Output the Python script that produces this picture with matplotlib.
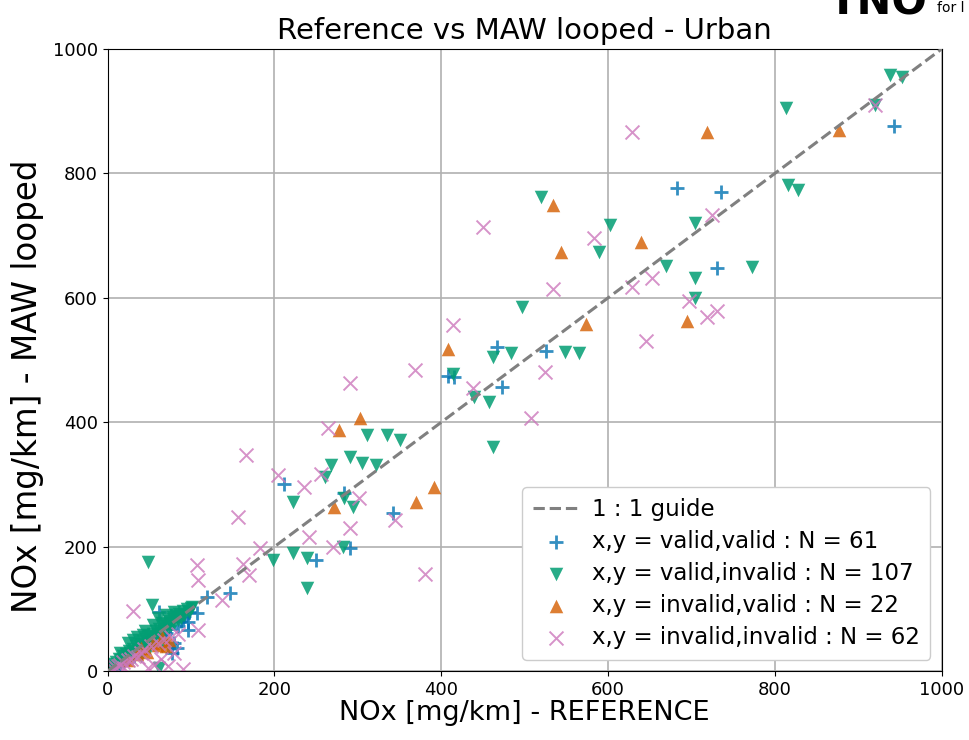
import numpy as np
import matplotlib
matplotlib.use("Agg")
import matplotlib.pyplot as plt

# valid,valid (N = 61)
vv_x = [943, 683, 735, 730, 467, 525, 473, 408, 415, 211, 283, 342, 291, 250, 147, 119,
        62, 98, 96, 97, 83, 77, 107,
        5, 8, 10, 12, 14, 15, 18, 20, 22, 24, 26, 28, 30, 32, 35, 36, 38, 40, 42, 44, 46,
        48, 50, 52, 55, 58, 60, 62, 65, 68, 70, 72, 75, 80, 85, 88, 90, 92, 95][:61]
vv_y = [876, 776, 770, 648, 521, 514, 457, 474, 472, 301, 286, 254, 198, 178, 125, 119,
        95, 95, 66, 79, 37, 29, 93,
        4, 6, 9, 10, 15, 12, 16, 18, 24, 20, 22, 30, 27, 25, 33, 38, 35, 36, 45, 40, 42,
        50, 44, 55, 48, 60, 50, 65, 58, 70, 62, 40, 68, 45, 72, 80, 85, 88, 100][:61]

# valid,invalid (N = 107)
vi_x = [938, 952, 920, 813, 815, 827, 773, 704, 704, 704, 520, 602, 589, 669, 497, 462,
        483, 548, 565, 457, 462, 439, 311, 335, 350, 268, 261, 291, 305, 322, 283, 294,
        222, 282, 198, 222, 239, 239, 49, 53, 101, 78, 65, 42, 62, 414,
        2, 4, 6, 8, 10, 12, 14, 16, 18, 20, 22, 24, 26, 28, 30, 32, 34, 36, 38, 40, 42,
        44, 46, 48, 50, 52, 54, 56, 58, 60, 62, 64, 66, 68, 70, 72, 74, 76, 78, 80, 82,
        84, 86, 88, 90, 92, 95, 98, 100, 35, 45, 55, 60, 25, 15, 30, 70, 80, 40, 50, 65]
vi_y = [958, 955, 910, 905, 781, 773, 650, 720, 632, 600, 762, 717, 674, 651, 585, 505,
        511, 513, 511, 432, 360, 441, 379, 379, 371, 331, 312, 344, 334, 331, 278, 264,
        272, 199, 178, 190, 182, 133, 175, 106, 103, 87, 77, 58, 5, 478,
        3, 8, 5, 12, 15, 10, 20, 18, 25, 14, 28, 22, 32, 26, 36, 30, 40, 34, 44, 38, 48,
        42, 52, 46, 56, 50, 60, 54, 64, 58, 68, 62, 72, 66, 76, 70, 80, 74, 84, 78, 88,
        82, 92, 86, 96, 90, 100, 95, 102, 55, 65, 75, 85, 45, 30, 50, 90, 95, 25, 35, 40]

# invalid,valid (N = 22)
iv_x = [718, 877, 534, 543, 639, 573, 694, 408, 303, 278, 272, 370, 391,
        74, 60, 47, 35, 25, 65, 55, 40, 70]
iv_y = [867, 870, 749, 674, 690, 558, 563, 518, 407, 387, 264, 272, 296,
        50, 42, 31, 28, 18, 55, 45, 38, 40]

# invalid,invalid (N = 62)
ii_x = [920, 724, 718, 730, 628, 450, 583, 534, 629, 652, 697, 645, 524, 508, 290, 368,
        264, 166, 204, 235, 256, 301, 290, 242, 270, 156, 381, 345, 438, 183, 162, 170,
        137, 107, 108, 31, 108, 414,
        3, 6, 9, 12, 15, 18, 20, 24, 28, 32, 36, 40, 44, 48, 52, 56, 60, 64, 68, 72, 76,
        80, 85, 90]
ii_y = [910, 733, 569, 579, 866, 713, 696, 614, 618, 631, 595, 530, 481, 407, 463, 484,
        390, 347, 315, 296, 317, 278, 230, 215, 199, 248, 156, 243, 455, 198, 173, 154,
        114, 170, 146, 97, 66, 556,
        2, 4, 7, 8, 10, 14, 5, 18, 20, 25, 22, 30, 35, 5, 40, 10, 45, 20, 50, 8, 55,
        30, 60, 3]

fig = plt.figure(figsize=(9.69, 7.4), dpi=100)
ax = fig.add_axes([0.111, 0.093, 0.861, 0.841])

ax.plot([0, 1000], [0, 1000], '--', color='gray', lw=2.2, label='1 : 1 guide', zorder=3)
ax.scatter(vv_x, vv_y, marker='+', s=110, color='#0173b2', alpha=0.8, linewidths=2,
           label='x,y = valid,valid : N = %d' % len(vv_x), zorder=2)
ax.scatter(vi_x, vi_y, marker='v', s=95, color='#029e73', alpha=0.85, linewidths=0,
           label='x,y = valid,invalid : N = %d' % len(vi_x), zorder=2)
ax.scatter(iv_x, iv_y, marker='^', s=95, color='#d55e00', alpha=0.8, linewidths=0,
           label='x,y = invalid,valid : N = %d' % len(iv_x), zorder=2)
ax.scatter(ii_x, ii_y, marker='x', s=100, color='#cc78bc', alpha=0.8, linewidths=1.4,
           label='x,y = invalid,invalid : N = %d' % len(ii_x), zorder=2)

ax.set_xlim(0, 1000)
ax.set_ylim(0, 1000)
ax.set_xticks(range(0, 1001, 200))
ax.set_yticks(range(0, 1001, 200))
ax.tick_params(labelsize=13)
ax.grid(True, color='#b0b0b0', lw=1.2)
ax.set_axisbelow(True)

ax.set_title('Reference vs MAW looped - Urban', fontsize=21, pad=7)
ax.set_xlabel('NOx [mg/km] - REFERENCE', fontsize=19.5, labelpad=1)
ax.set_ylabel('NOx [mg/km] - MAW looped', fontsize=23.5)
ax.yaxis.set_label_coords(-0.076, 0.458)

ax.legend(loc='lower right', fontsize=16.5, framealpha=1, edgecolor='#cccccc',
          handletextpad=0.6, borderpad=0.45, labelspacing=0.4)

# partially visible logo at the top right
fig.text(0.855, 0.981, 'TNO', fontsize=30, fontweight='black', va='baseline', ha='left')
fig.text(0.967, 0.984, 'for l', fontsize=10, va='baseline', ha='left')

plt.savefig('out.png', dpi=100)
